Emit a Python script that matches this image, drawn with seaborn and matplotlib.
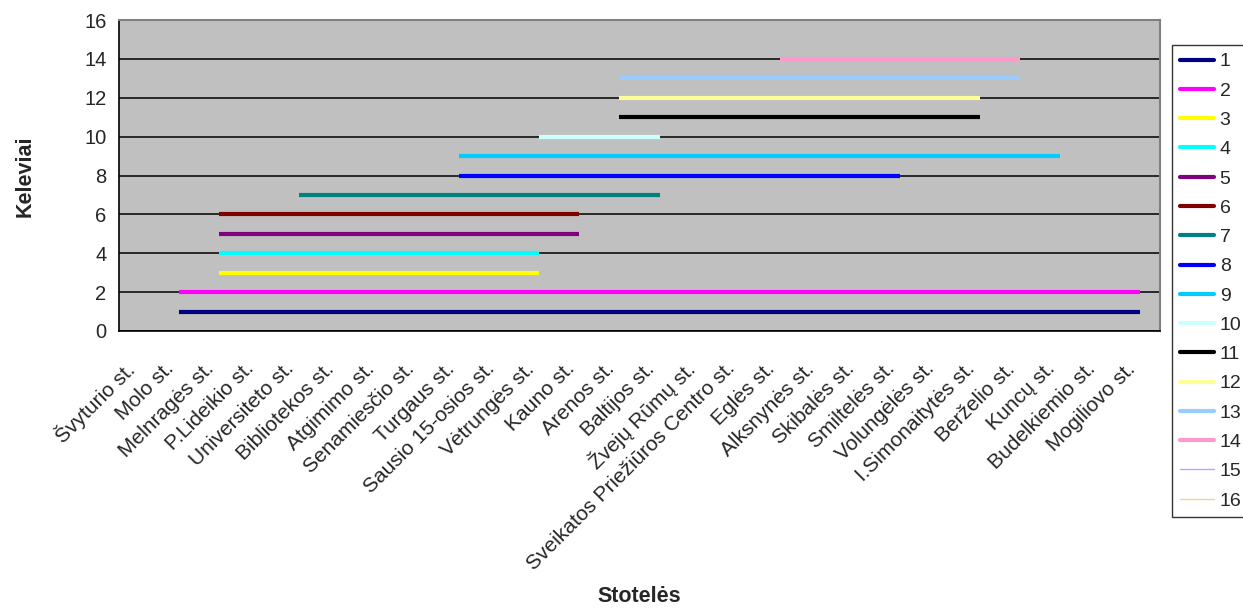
import numpy as np
import pandas as pd
import matplotlib
matplotlib.use("Agg")
import matplotlib.pyplot as plt
import matplotlib.transforms as mtransforms
from matplotlib.lines import Line2D
import seaborn as sns

# Stops along the route (x categories)
stops = ["Švyturio st.", "Molo st.", "Melnragės st.", "P.Lideikio st.",
         "Universiteto st.", "Bibliotekos st.", "Atgimimo st.",
         "Senamiesčio st.", "Turgaus st.", "Sausio 15-osios st.",
         "Vėtrungės st.", "Kauno st.", "Arenos st.", "Baltijos st.",
         "Žvejų Rūmų st.", "Sveikatos Priežiūros Centro st.", "Eglės st.",
         "Alksnynės st.", "Skibalės st.", "Smiltelės st.", "Volungėlės st.",
         "I.Simonaitytės st.", "Berželio st.", "Kuncų st.",
         "Budelkiemio st.", "Mogiliovo st."]

# Passenger number, where they got on and off
passengers = list(range(1, 17))
board = ["Molo st.", "Molo st.", "Melnragės st.", "Melnragės st.",
         "Melnragės st.", "Melnragės st.", "Universiteto st.", "Turgaus st.",
         "Turgaus st.", "Vėtrungės st.", "Arenos st.", "Arenos st.",
         "Arenos st.", "Eglės st.", None, None]
alight = ["Mogiliovo st.", "Mogiliovo st.", "Vėtrungės st.", "Vėtrungės st.",
          "Kauno st.", "Kauno st.", "Baltijos st.", "Smiltelės st.",
          "Kuncų st.", "Baltijos st.", "I.Simonaitytės st.",
          "I.Simonaitytės st.", "Berželio st.", "Berželio st.", None, None]

colors = ["#000080", "#FF00FF", "#FFFF00", "#00FFFF", "#800080", "#800000",
          "#008080", "#0000FF", "#00CCFF", "#CCFFFF", "#000000", "#FFFF99",
          "#99CCFF", "#FF99CC", "#CC99FF", "#FFCC99"]

# long table: one row per stop a passenger is on the bus
rows = []
for p, b, a in zip(passengers, board, alight):
    if b is None:
        continue
    for i in range(stops.index(b), stops.index(a) + 1):
        rows.append({"pos": i, "keleivis": p, "label": str(p)})
df = pd.DataFrame(rows)

sns.set_style("white")
plt.rcParams["font.family"] = ["Liberation Sans", "DejaVu Sans"]

fig = plt.figure(figsize=(12.43, 6.08), dpi=100)
ax = fig.add_axes([119 / 1243, 1 - 331 / 608, (1160 - 119) / 1243, (331 - 20) / 608])

palette = {str(p): c for p, c in zip(passengers, colors)}
sns.lineplot(data=df, x="pos", y="keleivis", hue="label", palette=palette,
             estimator=None, sort=False, lw=3, legend=False, ax=ax,
             solid_capstyle="butt")

ax.set_facecolor("#C0C0C0")
ax.set_xlim(-0.5, len(stops) - 0.5)
ax.set_ylim(0, 16)
ax.set_yticks(range(0, 17, 2))
ax.yaxis.grid(True, color="black", lw=1.1)
ax.set_axisbelow(True)

for s in ["top", "right"]:
    ax.spines[s].set_color("#808080")
    ax.spines[s].set_linewidth(1.5)
for s in ["left", "bottom"]:
    ax.spines[s].set_color("black")
    ax.spines[s].set_linewidth(1.2)

ax.set_xticks(range(len(stops)))
ax.set_xticklabels(stops, rotation=45, ha="right", va="center",
                   rotation_mode="anchor", fontsize=15)
ax.set_xticks(np.arange(-0.5, len(stops), 1), minor=True)
ax.tick_params(axis="x", which="major", length=0, pad=25)
ax.tick_params(axis="x", which="minor", length=5, width=1, direction="out",
               color="black")
ax.tick_params(axis="y", length=5, width=1, direction="out", color="black",
               pad=4, labelsize=14.5)
ax.set_xlabel("")
ax.set_ylabel("")

# nudge rotated labels to the left like the original
shift = mtransforms.ScaledTranslation(-8 / 100, 0, fig.dpi_scale_trans)
for lab in ax.get_xticklabels():
    lab.set_transform(lab.get_transform() + shift)

fig.text(639 / 1243, 1 - 597 / 608, "Stotelės", ha="center", va="center",
         fontweight="bold", fontsize=15.5)
fig.text(25 / 1243, 1 - 176 / 608, "Keleviai", ha="center", va="center",
         rotation=90, fontweight="bold", fontsize=15.5)

handles = [Line2D([0], [0], color=c, lw=3 if p <= 14 else 1)
           for p, c in zip(passengers, colors)]
leg = fig.legend(handles, [str(p) for p in passengers], loc="upper left",
                 bbox_to_anchor=(1172 / 1243, 1 - 45 / 608),
                 frameon=True, fancybox=False, edgecolor="black",
                 borderaxespad=0, handlelength=1.75, labelspacing=0.6,
                 handletextpad=0.3, borderpad=0.4, fontsize=14)
leg.get_frame().set_linewidth(1)

fig.savefig("out.png", dpi=100)
